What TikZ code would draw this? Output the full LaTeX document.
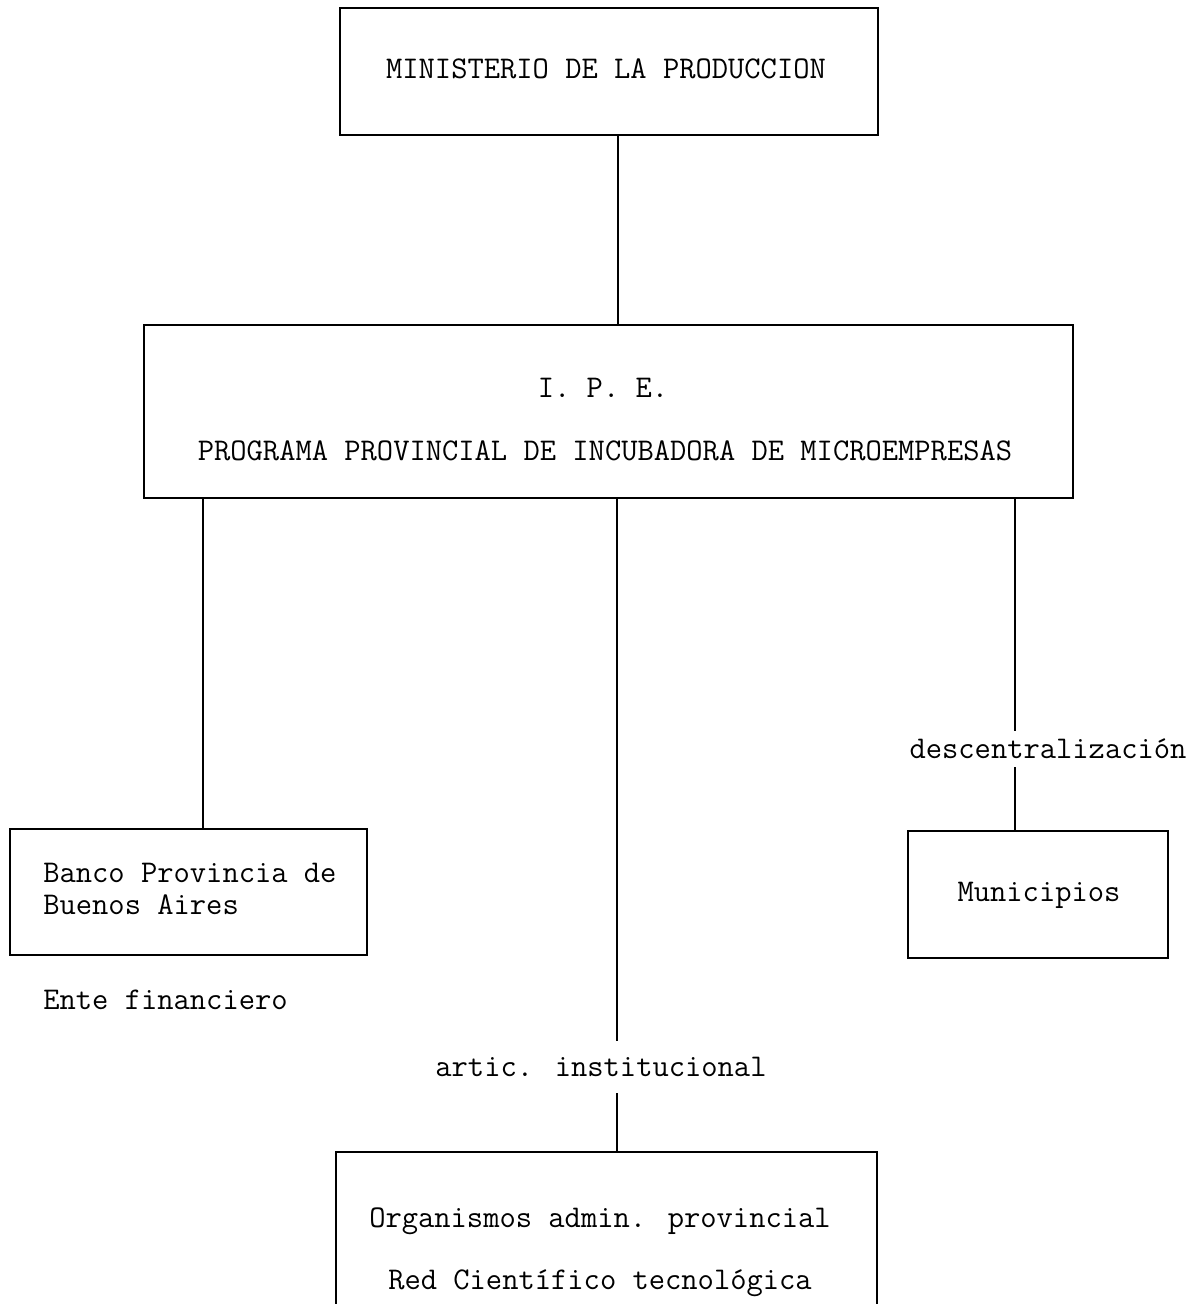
\documentclass[tikz,border=0pt]{standalone}
\usepackage{fontspec}
\begin{document}
\begin{tikzpicture}[x=0.02cm,y=-0.02cm,
  box/.style={draw,line width=1.4pt,rectangle,inner sep=0pt},
  txt/.style={font=\fontsize{18pt}{21pt}\selectfont\ttfamily,inner sep=0pt,anchor=mid},
  txtl/.style={txt,anchor=mid west},
  lbl/.style={font=\fontsize{18pt}{21pt}\selectfont\ttfamily,inner xsep=0pt},
  conn/.style={line width=1.4pt}]
\useasboundingbox (0,0) rectangle (1199,1304);
\clip (0,0) rectangle (1199,1304);
% boxes
\node[box,minimum width=10.76cm,minimum height=2.54cm] (min) at (609,71.5) {};
\node[box,minimum width=18.58cm,minimum height=3.46cm] (ipe) at (608.5,411.5) {};
\node[box,minimum width=7.14cm,minimum height=2.52cm] (banco) at (188.5,892) {};
\node[box,minimum width=5.2cm,minimum height=2.54cm] (munic) at (1038,894.5) {};
\node[box,minimum width=10.82cm,minimum height=4cm] (org) at (606.5,1252) {};
% texts
\node[txt] (tmin) at (606,75) {MINISTERIO DE LA PRODUCCION};
\node[txt] (tipe1) at (603,394) {I. P. E.};
\node[txt] (tipe2) at (605,457) {PROGRAMA PROVINCIAL DE INCUBADORA DE MICROEMPRESAS};
\node[txtl] (tb1) at (43,879) {Banco Provincia de};
\node[txtl] (tb2) at (43,911) {Buenos Aires};
\node[txtl] (tente) at (43,1006) {Ente financiero};
\node[txt] (tmun) at (1039,898) {Municipios};
\node[txt] (torg1) at (600,1224) {Organismos admin. provincial};
\node[txt] (torg2) at (600,1286) {Red Científico tecnológica};
% labels on connectors
\node[lbl,anchor=mid,inner ysep=4.5pt] (desc) at (1048,755) {descentralización};
\node[lbl,anchor=mid,inner ysep=9pt] (artic) at (601,1073) {artic. institucional};
% connector x positions
\coordinate (xa) at (618,0);
\coordinate (xl) at (203,0);
\coordinate (xc) at (617,0);
\coordinate (xr) at (1015,0);
% connectors
\draw[conn] (min.south -| xa) -- (ipe.north -| xa);
\draw[conn] (ipe.south -| xl) -- (banco.north -| xl);
\draw[conn] (ipe.south -| xc) -- (artic.north -| xc);
\draw[conn] (artic.south -| xc) -- (org.north -| xc);
\draw[conn] (ipe.south -| xr) -- (desc.north -| xr);
\draw[conn] (desc.south -| xr) -- (munic.north -| xr);
\end{tikzpicture}
\end{document}
